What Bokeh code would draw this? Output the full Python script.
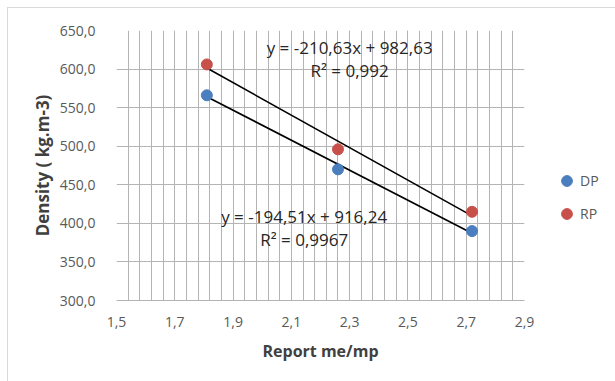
import numpy as np
from bokeh.plotting import figure
from bokeh.layouts import row
from bokeh.models import (FixedTicker, CustomJSTickFormatter, Range1d, Label,
                          Legend, LegendItem, InlineStyleSheet)
from bokeh.embed import file_html
from bokeh.resources import INLINE

# ---- data ----
ratio = [1.81, 2.26, 2.72]
dp_density = [566.0, 470.0, 390.0]
rp_density = [606.0, 496.0, 415.0]
dp_fit = {"slope": -194.51, "intercept": 916.24, "r2": "0,9967"}
rp_fit = {"slope": -210.63, "intercept": 982.63, "r2": "0,992"}
x_ticks = [1.5, 1.7, 1.9, 2.1, 2.3, 2.5, 2.7, 2.9]
y_ticks = [300, 350, 400, 450, 500, 550, 600, 650]
series_names = ["DP", "RP"]

FONT = "Open Sans"
GRID = "#b4b4b4"
TXT = "#595959"
BLUE = "#4A7EBF"
RED = "#C8504B"

p = figure(width=530, height=373, output_backend="svg", toolbar_location=None,
           x_range=Range1d(1.5, 2.9), y_range=Range1d(300, 650),
           min_border_left=108, min_border_top=22, min_border_right=14,
           min_border_bottom=81)
p.outline_line_color = None
p.background_fill_color = "white"
p.border_fill_color = "white"

minor = list(np.round(np.arange(1.5, 2.9001, 0.04), 2))
p.xaxis.ticker = FixedTicker(ticks=x_ticks, minor_ticks=minor)
p.yaxis.ticker = FixedTicker(ticks=y_ticks)
p.xaxis.formatter = CustomJSTickFormatter(code="return tick.toFixed(1).replace('.', ',');")
p.yaxis.formatter = CustomJSTickFormatter(code="return tick.toFixed(1).replace('.', ',');")

for ax in (p.xaxis, p.yaxis):
    ax.major_tick_line_color = None
    ax.minor_tick_line_color = None
    ax.major_label_text_font = FONT
    ax.major_label_text_font_size = "14px"
    ax.major_label_text_color = TXT
    ax.axis_label_text_font = FONT
    ax.axis_label_text_font_style = "bold"
    ax.axis_label_text_color = "#404040"
p.xaxis.axis_label_text_font_size = "16px"
p.yaxis.axis_label_text_font_size = "17px"
p.xaxis.axis_line_color = GRID
p.yaxis.axis_line_color = None
p.xaxis.major_label_standoff = 10
p.yaxis.major_label_standoff = 15
p.xaxis.axis_label_standoff = 10
p.yaxis.axis_label_standoff = 3
p.xaxis.axis_label = "Report me/mp"
p.yaxis.axis_label = "Density ( kg.m-3)"

p.xgrid.grid_line_color = GRID
p.xgrid.minor_grid_line_color = GRID
p.ygrid.grid_line_color = GRID

# trendlines
xs = [min(ratio), max(ratio)]
for fit in (dp_fit, rp_fit):
    ys = [fit["slope"] * x + fit["intercept"] for x in xs]
    p.line(xs, ys, line_color="black", line_width=1.6)

p.scatter(ratio, dp_density, size=11, fill_color=BLUE, line_color=BLUE)
p.scatter(ratio, rp_density, size=11, fill_color=RED, line_color=RED)

def fmt(v):
    return ("%.2f" % abs(v)).replace(".", ",")

eqs = [
    (rp_fit, 2.30, 628, 598),
    (dp_fit, 2.144, 409, 379),
]
for fit, lx, ly1, ly2 in eqs:
    t1 = "y = -%sx + %s" % (fmt(fit["slope"]), fmt(fit["intercept"]))
    t2 = "R² = %s" % fit["r2"]
    for t, ly in ((t1, ly1), (t2, ly2)):
        p.add_layout(Label(x=lx, y=ly, text=t, text_align="center",
                           text_baseline="middle", text_font=FONT,
                           text_font_size="17px", text_color="#262626"))

# legend panel (separate figure beside the plot); its proxy points lie outside its view
lf = figure(width=77, height=373, output_backend="svg", toolbar_location=None,
            x_axis_type=None, y_axis_type=None, min_border=0,
            x_range=Range1d(0, 1), y_range=Range1d(0, 1))
lf.outline_line_color = None
lf.grid.visible = False
lf.border_fill_color = "white"
dp_proxy = lf.scatter(ratio, dp_density, size=11, fill_color=BLUE, line_color=BLUE)
rp_proxy = lf.scatter(ratio, rp_density, size=11, fill_color=RED, line_color=RED)
legend = Legend(items=[LegendItem(label=series_names[0], renderers=[dp_proxy]),
                       LegendItem(label=series_names[1], renderers=[rp_proxy])],
                location=(15, 73), orientation="vertical",
                label_text_font=FONT, label_text_font_size="14px",
                label_text_color=TXT, glyph_width=27, glyph_height=27,
                label_height=27, spacing=6, label_standoff=0, padding=0,
                margin=0, border_line_color=None, background_fill_alpha=0)
lf.add_layout(legend, "center")

layout = row(p, lf, spacing=0)
layout.stylesheets = [InlineStyleSheet(css=":host { margin-left: 7px; margin-top: 7px; "
                                            "border-left: 1px solid #d9d9d9; "
                                            "border-top: 1px solid #d9d9d9; }")]

open("out.html", "w").write(file_html(layout, INLINE))
